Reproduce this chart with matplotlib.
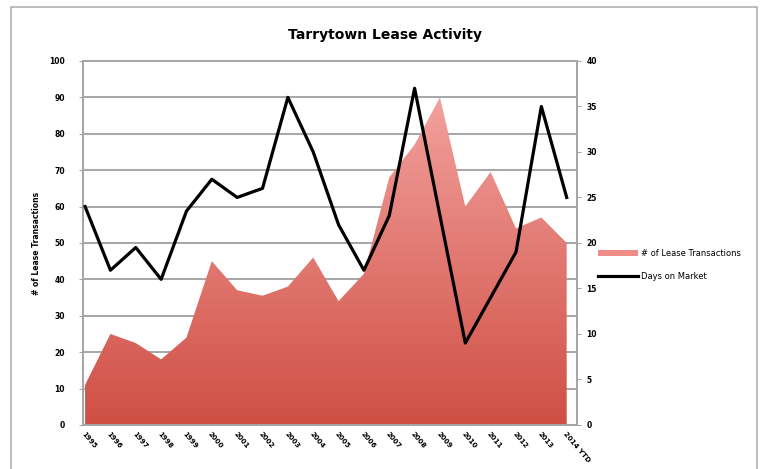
import matplotlib
matplotlib.use("Agg")
import matplotlib.pyplot as plt
import numpy as np
from matplotlib.patches import Rectangle, Patch
from matplotlib.lines import Line2D
from matplotlib.colors import LinearSegmentedColormap

plt.rcParams.update({"font.family": "DejaVu Sans"})

periods = ["1995", "1996", "1997", "1998", "1999", "2000", "2001", "2002", "2003", "2004",
           "2005", "2006", "2007", "2008", "2009", "2010", "2011", "2012", "2013", "2014 YTD"]
lease_tx = [11, 25, 22.5, 18, 24, 45, 37, 35.5, 38, 46,
            34, 41.5, 68, 77, 90, 60, 69.5, 54, 57, 50]
days_on_market = [24, 17, 19.5, 16, 23.5, 27, 25, 26, 36, 30,
                  22, 17, 23, 37, 23, 9, 14, 19, 35, 25]

fig = plt.figure(figsize=(7.62, 4.69), dpi=100, facecolor="white")
ax = fig.add_axes([0.109, 0.094, 0.648, 0.776])
ax2 = ax.twinx()

x = np.arange(len(periods))
ax.set_xlim(-0.08, 19.4)
ax.set_ylim(0, 100)
ax2.set_ylim(0, 40)

# gradient-filled area
poly = ax.fill_between(x, 0, lease_tx, facecolor="none", edgecolor="none")
grad = np.linspace(0, 1, 256).reshape(-1, 1)
cmap = LinearSegmentedColormap.from_list("g", ["#cf4f44", "#f7aaa7"])
img = ax.imshow(grad, cmap=cmap, aspect="auto", origin="lower",
                extent=[-0.08, 19.4, 0, 100], zorder=2)
img.set_clip_path(poly.get_paths()[0], transform=ax.transData)

for yv in range(10, 101, 10):
    ax.axhline(yv, color="#a6a6a6", lw=1.4, zorder=1)

ax2.plot(x, days_on_market, color="black", lw=2.3, zorder=5)

for a in (ax, ax2):
    for s in a.spines.values():
        s.set_color("#a6a6a6")
        s.set_linewidth(1.4)

ax.set_yticks(range(0, 101, 10))
ax2.set_yticks(range(0, 41, 5))
ax.tick_params(axis="y", labelsize=5.5, length=3, color="#a6a6a6", pad=10)
ax2.tick_params(axis="y", labelsize=5.5, length=3, color="#a6a6a6", pad=4)
for lab in ax.get_yticklabels() + ax2.get_yticklabels():
    lab.set_fontweight("bold")

ax.set_xticks(x)
ax.set_xticklabels(periods, rotation=-50, ha="left", va="top",
                   rotation_mode="anchor", fontsize=5, fontweight="bold")
ax.tick_params(axis="x", length=0, pad=4)

ax.set_ylabel("# of Lease Transactions", fontsize=5.5, fontweight="bold", labelpad=6)
fig.text(385 / 762, 1 - 35 / 469, "Tarrytown Lease Activity", ha="center", va="center",
         fontsize=10, fontweight="bold")

handles = [Patch(facecolor="#f08c88", edgecolor="none"),
           Line2D([0], [0], color="black", lw=2.3)]
fig.legend(handles, ["# of Lease Transactions", "Days on Market"],
           loc="center left", bbox_to_anchor=(0.775, 0.435), frameon=False,
           fontsize=6, handlelength=4.8, labelspacing=1.6, handletextpad=0.3)

# chart frame
fig.patches.append(Rectangle((11 / 762, -0.02), 746 / 762, 1.02 - 7 / 469,
                             transform=fig.transFigure,
                             fill=False, edgecolor="#b0b0b0", lw=1.2))

fig.savefig("out.png", dpi=100, facecolor="white")
